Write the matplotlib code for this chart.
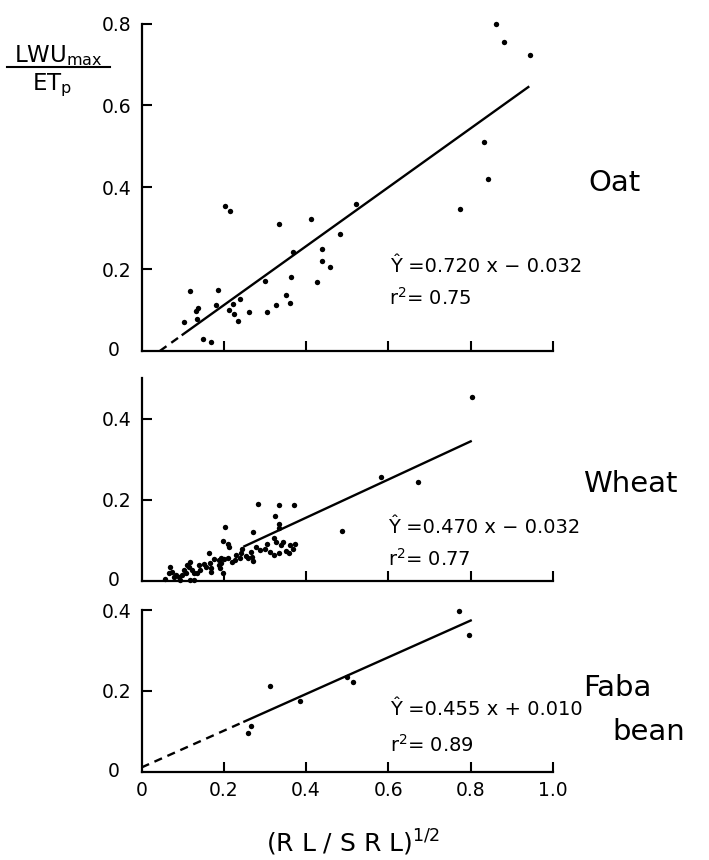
import matplotlib
matplotlib.use("Agg")
import matplotlib.pyplot as plt
import numpy as np
from matplotlib.lines import Line2D

plt.rcParams['font.family'] = ['DejaVu Sans']
plt.rcParams['mathtext.fontset'] = 'dejavusans'

W, H = 709, 860

# ---- data: sqrt(RL/SRL) vs LWUmax/ETp ----
oat_x = [0.862, 0.881, 0.945, 0.832, 0.842, 0.773, 0.521, 0.482, 0.411, 0.335,
         0.202, 0.215, 0.438, 0.438, 0.459, 0.367, 0.364, 0.427, 0.299, 0.352,
         0.361, 0.326, 0.305, 0.261, 0.239, 0.222, 0.213, 0.226, 0.234, 0.187,
         0.180, 0.119, 0.137, 0.133, 0.134, 0.103, 0.150, 0.168]
oat_y = [0.799, 0.756, 0.723, 0.511, 0.421, 0.346, 0.359, 0.286, 0.323, 0.310,
         0.354, 0.342, 0.250, 0.221, 0.204, 0.241, 0.181, 0.168, 0.170, 0.136,
         0.117, 0.112, 0.095, 0.096, 0.126, 0.114, 0.100, 0.091, 0.073, 0.148,
         0.113, 0.146, 0.106, 0.098, 0.079, 0.071, 0.029, 0.023]

wheat_x = [0.804, 0.582, 0.673, 0.488, 0.283, 0.335, 0.371, 0.324, 0.334, 0.334,
           0.202, 0.270, 0.198, 0.210, 0.212, 0.164, 0.279, 0.289, 0.301, 0.313,
           0.323, 0.328, 0.338, 0.322, 0.334, 0.358, 0.362, 0.372, 0.369, 0.265,
           0.269, 0.271, 0.253, 0.258, 0.241, 0.239, 0.228, 0.220, 0.210, 0.200,
           0.188, 0.194, 0.188, 0.190, 0.177, 0.166, 0.168, 0.170, 0.151, 0.156,
           0.139, 0.143, 0.117, 0.115, 0.123, 0.127, 0.117, 0.127, 0.107, 0.103,
           0.099, 0.091, 0.093, 0.083, 0.079, 0.070, 0.075, 0.066, 0.058, 0.198,
           0.192, 0.305, 0.345, 0.350, 0.245, 0.230, 0.135, 0.110]
wheat_y = [0.453, 0.257, 0.243, 0.122, 0.190, 0.187, 0.187, 0.159, 0.140, 0.130,
           0.133, 0.120, 0.098, 0.091, 0.084, 0.068, 0.083, 0.076, 0.078, 0.072,
           0.105, 0.097, 0.088, 0.064, 0.070, 0.068, 0.088, 0.091, 0.078, 0.072,
           0.060, 0.050, 0.061, 0.057, 0.070, 0.056, 0.052, 0.047, 0.056, 0.053,
           0.052, 0.057, 0.039, 0.031, 0.053, 0.045, 0.031, 0.023, 0.043, 0.035,
           0.039, 0.027, 0.047, 0.035, 0.027, 0.019, 0.003, 0.002, 0.019, 0.027,
           0.015, 0.011, 0.003, 0.015, 0.009, 0.035, 0.023, 0.019, 0.005, 0.019,
           0.045, 0.090, 0.095, 0.075, 0.080, 0.065, 0.020, 0.040]

faba_x = [0.772, 0.795, 0.312, 0.500, 0.514, 0.384, 0.267, 0.259]
faba_y = [0.398, 0.339, 0.212, 0.233, 0.221, 0.175, 0.112, 0.096]

# regression fits: slope, intercept, r^2
oat_fit = (0.720, -0.032, 0.75)
wheat_fit = (0.470, -0.032, 0.77)
faba_fit = (0.455, 0.010, 0.89)

# extent of the fitted lines (dashed part = extrapolation)
oat_dash, oat_solid = (0.0444, 0.10), (0.10, 0.94)
wheat_dash, wheat_solid = None, (0.25, 0.80)
faba_dash, faba_solid = (0.0, 0.25), (0.25, 0.80)

x_ticks = [0.2, 0.4, 0.6, 0.8, 1.0]
x_labels = ['0.2', '0.4', '0.6', '0.8', '1.0']

fig = plt.figure(figsize=(W / 100, H / 100), dpi=100)


def px_axes(left, right, y0, ytop):
    return fig.add_axes([left / W, 1 - y0 / H, (right - left) / W, (y0 - ytop) / H])


def fig_xy(x, y):
    return x / W, 1 - y / H


axL, axR = 141.5, 553
panels = [
    dict(ax=px_axes(axL, axR, 351, 23.5), x=oat_x, y=oat_y, fit=oat_fit, ymax=0.8,
         yt=[0.2, 0.4, 0.6, 0.8], dash=oat_dash, solid=oat_solid,
         eq=(390, 272), r2=(389, 305), xl=False),
    dict(ax=px_axes(axL, axR, 581, 378), x=wheat_x, y=wheat_y, fit=wheat_fit, ymax=0.5,
         yt=[0.2, 0.4], dash=wheat_dash, solid=wheat_solid,
         eq=(388, 533), r2=(388, 566), xl=False),
    dict(ax=px_axes(axL, axR, 771.5, 610), x=faba_x, y=faba_y, fit=faba_fit, ymax=0.4,
         yt=[0.2, 0.4], dash=faba_dash, solid=faba_solid,
         eq=(390, 715), r2=(390, 752), xl=True),
]

for p in panels:
    ax = p['ax']
    ax.set_xlim(0, 1.0)
    ax.set_ylim(0, p['ymax'])
    for s in ('top', 'right'):
        ax.spines[s].set_visible(False)
    for s in ('left', 'bottom'):
        ax.spines[s].set_linewidth(1.6)
    ax.set_xticks(x_ticks)
    ax.set_yticks(p['yt'])
    ax.set_yticklabels([f'{v:.1f}' for v in p['yt']])
    ax.tick_params(direction='in', length=7, width=1.5, labelsize=13.5, pad=7)
    if p['xl']:
        ax.set_xticklabels(x_labels)
    else:
        ax.set_xticklabels([])
    # zero labels at the corner
    ax.text(-0.052, 0, '0', transform=ax.transAxes, ha='right', va='center',
            fontsize=13.5)

    ax.scatter(p['x'], p['y'], s=15, color='black', linewidths=0, clip_on=False,
               zorder=3)
    m, b, r2 = p['fit']
    if p['dash'] is not None:
        xd = np.array(p['dash'])
        ax.plot(xd, m * xd + b, color='black', lw=1.7, ls=(0, (3.5, 2.5)),
                clip_on=False)
    xs = np.array(p['solid'])
    ax.plot(xs, m * xs + b, color='black', lw=1.7, clip_on=False)

    sign = '−' if b < 0 else '+'
    ex, ey = fig_xy(*p['eq'])
    fig.text(ex, ey, f'Ŷ =0.{int(round(m * 1000)):03d} x {sign} {abs(b):.3f}',
             fontsize=14, ha='left', va='baseline')
    rx, ry = fig_xy(*p['r2'])
    fig.text(rx, ry, f'r$^2$= {r2:.2f}', fontsize=14, ha='left', va='baseline')

# corner zero of the x axis
panels[2]['ax'].text(0, -0.06, '0', transform=panels[2]['ax'].get_xaxis_transform(),
                     ha='center', va='top', fontsize=13.5)

# crop names
for txt, (x, y) in [('Oat', (588, 183)), ('Wheat', (583, 484)),
                     ('Faba', (583, 688)), ('bean', (612, 732))]:
    fx, fy = fig_xy(x, y)
    fig.text(fx, fy, txt, fontsize=21, ha='left', va='center')

# axis titles
fx, fy = fig_xy(353, 843)
fig.text(fx, fy, '(R L / S R L)$^{1/2}$', fontsize=18, ha='center', va='center')

fx, fy = fig_xy(58, 62)
fig.text(fx, fy, 'LWU$_{\\mathrm{max}}$', fontsize=16.5, ha='center', va='baseline')
fx, fy = fig_xy(52, 90)
fig.text(fx, fy, 'ET$_{\\mathrm{p}}$', fontsize=16.5, ha='center', va='baseline')
x1, y1 = fig_xy(7, 67)
x2, _ = fig_xy(110, 67)
fig.add_artist(Line2D([x1, x2], [y1, y1], color='black', lw=1.5,
                      transform=fig.transFigure))

fig.savefig('out.png', dpi=100)
